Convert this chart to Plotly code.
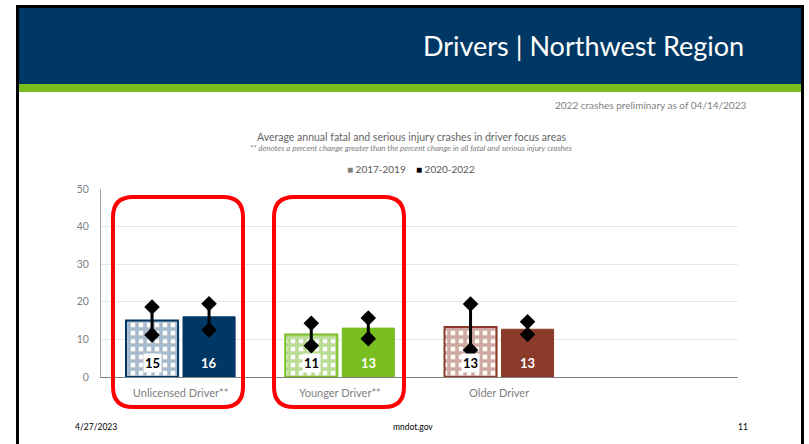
import plotly.graph_objects as go

# ---------------- data ----------------
categories = ["Unlicensed Driver**", "Younger Driver**", "Older Driver", ""]
series_names = ["2017-2019", "2020-2022"]
vals_1719 = [15.0, 11.3, 13.3]
vals_2022 = [16.0, 13.0, 12.7]
lo_1719 = [11.2, 8.3, 7.2]
hi_1719 = [18.6, 14.3, 19.4]
lo_2022 = [12.5, 10.2, 11.3]
hi_2022 = [19.5, 15.7, 14.7]
y_ticks = [0, 10, 20, 30, 40, 50]

# ---------------- styling ----------------
base_colors = ["#003865", "#78BE21", "#8B3B2A"]
tint_a = ["#a9bacb", "#b9dc92", "#cfaaa2"]
tint_b = ["#7d97b1", "#9fcc68", "#b9877c"]
FONT = "Lato"
W, H = 809, 444
L, R, T, B = 101, 71, 189, 67
PW, PH = W - L - R, H - T - B

def px(x):
    return (x - L) / PW

def py(y):
    return (H - B - y) / PH

BAR_W = 0.327
OFF = [-0.343, 0.015]

idx = list(range(len(vals_1719)))
centers = [[i + OFF[s] + BAR_W / 2 for i in idx] for s in range(2)]

fig = go.Figure()

fig.add_trace(go.Bar(
    x=idx, y=vals_1719, width=BAR_W, offset=OFF[0], name=series_names[0],
    marker=dict(color=tint_a, line=dict(color=base_colors, width=2),
                pattern=dict(shape="+", fgcolor=tint_a, bgcolor=tint_b,
                             size=8, solidity=0.7, fillmode="replace")),
    showlegend=False, hoverinfo="skip"))
fig.add_trace(go.Bar(
    x=idx, y=vals_2022, width=BAR_W, offset=OFF[1], name=series_names[1],
    marker=dict(color=base_colors, line=dict(color=base_colors, width=1)),
    showlegend=False, hoverinfo="skip"))

for s, (lo, hi) in enumerate([(lo_1719, hi_1719), (lo_2022, hi_2022)]):
    xs, ys = [], []
    for c, a, b in zip(centers[s], lo, hi):
        xs += [c, c, None]
        ys += [a, b, None]
    fig.add_trace(go.Scatter(
        x=xs, y=ys, mode="lines+markers",
        line=dict(color="black", width=3),
        marker=dict(symbol="diamond", size=12, color="black"),
        showlegend=False, hoverinfo="skip"))

annotations = []
for s, vals in enumerate([vals_1719, vals_2022]):
    for c, v in zip(centers[s], vals):
        annotations.append(dict(
            x=c, y=0, xref="x", yref="y", yanchor="bottom", yshift=4,
            text=f"<b>{v:.0f}</b>", showarrow=False,
            font=dict(family=FONT, size=13, color="black" if s == 0 else "white"),
            bgcolor="white" if s == 0 else "rgba(0,0,0,0)", borderpad=1))

def txt(x, y, text, size, color, anchor="center", italic=False):
    annotations.append(dict(
        x=px(x), y=py(y), xref="paper", yref="paper", xanchor=anchor, yanchor="middle",
        text=f"<i>{text}</i>" if italic else text, showarrow=False,
        font=dict(family=FONT, size=size, color=color)))

txt(746, 45, "Drivers | Northwest Region", 27, "white", "right")
txt(748, 105, "2022 crashes preliminary as of 04/14/2023", 10, "#808080", "right")
txt(411, 137, "Average annual fatal and serious injury crashes in driver focus areas", 10.5, "#666666")
txt(411, 148, "** denotes a percent change greater than the percent change in all fatal and serious injury crashes", 8, "#808080", italic=True)
txt(411, 169, '<span style="color:#7f7f7f">■</span> ' + series_names[0] + '    <span style="color:#000000">■</span> ' + series_names[1], 10, "#595959")
txt(73, 427, "4/27/2023", 8.5, "black", "left")
txt(413, 427, "mndot.gov", 8.5, "black")
txt(750, 427, "11", 8.5, "black", "right")

shapes = []
def rect(x0, y0, x1, y1, color):
    shapes.append(dict(type="rect", xref="paper", yref="paper", layer="below",
                       x0=px(x0), x1=px(x1), y0=py(y0), y1=py(y1),
                       fillcolor=color, line=dict(width=0)))

rect(16, 5, 804, 8, "black")
rect(16, 5, 19, 444, "black")
rect(801, 5, 804, 444, "black")
rect(19, 8, 801, 84, "#003865")
rect(19, 84, 801, 92, "#78BE21")

def rounded(x0, y0, x1, y1, r):
    pts = [
        f"M{px(x0 + r)},{py(y0)}", f"L{px(x1 - r)},{py(y0)}",
        f"Q{px(x1)},{py(y0)} {px(x1)},{py(y0 + r)}", f"L{px(x1)},{py(y1 - r)}",
        f"Q{px(x1)},{py(y1)} {px(x1 - r)},{py(y1)}", f"L{px(x0 + r)},{py(y1)}",
        f"Q{px(x0)},{py(y1)} {px(x0)},{py(y1 - r)}", f"L{px(x0)},{py(y0 + r)}",
        f"Q{px(x0)},{py(y0)} {px(x0 + r)},{py(y0)}", "Z"]
    shapes.append(dict(type="path", xref="paper", yref="paper", layer="above",
                       path=" ".join(pts), line=dict(color="#ff0000", width=4)))

rounded(113, 197, 243, 407, 20)
rounded(274, 197, 404, 407, 20)

fig.update_layout(
    width=W, height=H, margin=dict(l=L, r=R, t=T, b=B),
    paper_bgcolor="white", plot_bgcolor="white",
    barmode="overlay", showlegend=False,
    font=dict(family=FONT),
    annotations=annotations, shapes=shapes,
    xaxis=dict(range=[-0.5, len(categories) - 0.5], tickmode="array",
               tickvals=list(range(len(categories))), ticktext=categories,
               showgrid=False, zeroline=False, showline=True, linecolor="#808080",
               linewidth=1, ticks="", ticklabelstandoff=6,
               tickfont=dict(family=FONT, size=11, color="#808080")),
    yaxis=dict(range=[0, 50], tickvals=y_ticks, showgrid=True, gridcolor="#e6e6e6",
               gridwidth=1, zeroline=False, showline=True, linecolor="#a6a6a6",
               linewidth=1, ticks="", ticklabelstandoff=9,
               tickfont=dict(family=FONT, size=10.5, color="#808080")),
)

fig.write_html("out.html", config={"displayModeBar": False},
               post_script="document.body.style.margin='0px';document.body.style.overflow='hidden';")
